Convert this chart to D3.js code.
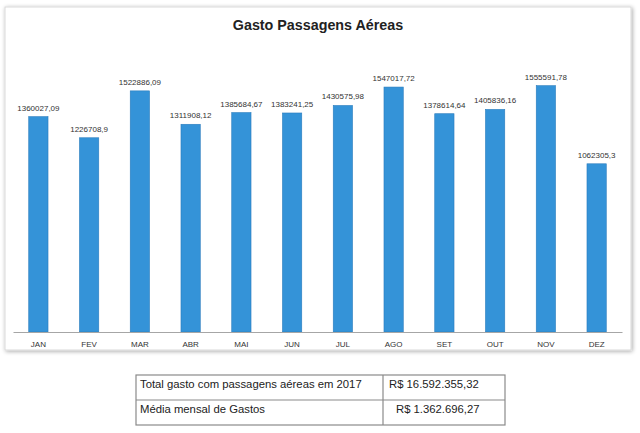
<!DOCTYPE html>
<html><head><meta charset="utf-8">
<script src="https://cdn.jsdelivr.net/npm/d3@7"></script>
<style>body{margin:0;background:#fff}svg{display:block}</style>
</head><body>
<svg id="c" width="640" height="433"></svg>
<script>
const months = ["JAN","FEV","MAR","ABR","MAI","JUN","JUL","AGO","SET","OUT","NOV","DEZ"];
const values = [1360027.09,1226708.9,1522886.09,1311908.12,1385684.67,1383241.25,1430575.98,1547017.72,1378614.64,1405836.16,1555591.78,1062305.3];
const valueLabels = ["1360027,09","1226708,9","1522886,09","1311908,12","1385684,67","1383241,25","1430575,98","1547017,72","1378614,64","1405836,16","1555591,78","1062305,3"];
const title = "Gasto Passagens Aéreas";
const tableRows = [["Total gasto com passagens aéreas em 2017","R$ 16.592.355,32"],["Média mensal de Gastos","R$ 1.362.696,27"]];

const svg = d3.select("#c");
const defs = svg.append("defs");
const f = defs.append("filter").attr("id","sh").attr("x","-5%").attr("y","-5%").attr("width","110%").attr("height","110%");
f.append("feGaussianBlur").attr("in","SourceAlpha").attr("stdDeviation",2);
f.append("feOffset").attr("dx",1).attr("dy",1).attr("result","b");
f.append("feComponentTransfer").append("feFuncA").attr("type","linear").attr("slope",0.35);
const m = f.append("feMerge"); m.append("feMergeNode"); m.append("feMergeNode").attr("in","SourceGraphic");
svg.append("rect").attr("x",5).attr("y",7).attr("width",626).attr("height",343)
  .attr("fill","#fff").attr("stroke","#d9d9d9").attr("filter","url(#sh)");

svg.append("text").attr("x",318).attr("y",30).attr("text-anchor","middle")
  .attr("font-family","Liberation Sans, Arial, sans-serif").attr("font-weight","bold")
  .attr("font-size",14.3).attr("fill","#222").text(title);

const x = d3.scaleBand().domain(months).range([13,622]).paddingInner(0.62).paddingOuter(0.31);
const y = d3.scaleLinear().domain([0,1800000]).range([332,47]);

svg.selectAll("rect.bar").data(values).join("rect").attr("class","bar")
  .attr("x",(d,i)=>x(months[i])).attr("width",x.bandwidth())
  .attr("y",d=>y(d)).attr("height",d=>y(0)-y(d))
  .attr("fill","#3493d8").attr("stroke","#2a7cbd").attr("stroke-width",0.6);

svg.selectAll("text.vl").data(values).join("text").attr("class","vl")
  .attr("x",(d,i)=>x(months[i])+x.bandwidth()/2).attr("y",d=>y(d)-6)
  .attr("text-anchor","middle").attr("font-family","Liberation Sans, Arial, sans-serif")
  .attr("font-size",8).attr("fill","#333").text((d,i)=>valueLabels[i]);

const ax = svg.append("g").attr("transform","translate(0,332)")
  .call(d3.axisBottom(x).tickSize(0).tickPadding(9));
ax.select(".domain").attr("stroke","#a6a6a6").attr("stroke-width",1.2);
ax.selectAll("text").attr("font-family","Liberation Sans, Arial, sans-serif").attr("font-size",8).attr("fill","#333");

const tx = 136, ty = 375, tw = 369, rh = 25, c1 = 247;
const tg = svg.append("g");
tg.append("rect").attr("x",tx).attr("y",ty).attr("width",tw).attr("height",rh*2)
  .attr("fill","none").attr("stroke","#8a8a8a").attr("stroke-width",1.2);
tg.append("line").attr("x1",tx).attr("x2",tx+tw).attr("y1",ty+rh).attr("y2",ty+rh).attr("stroke","#8a8a8a").attr("stroke-width",1.2);
tg.append("line").attr("x1",tx+c1).attr("x2",tx+c1).attr("y1",ty).attr("y2",ty+rh*2).attr("stroke","#8a8a8a").attr("stroke-width",1.2);
tableRows.forEach((r,i)=>{
  tg.append("text").attr("x",tx+4).attr("y",ty+rh*i+13).attr("font-family","Liberation Sans, Arial, sans-serif")
    .attr("font-size",11.3).attr("fill","#222").text(r[0]);
  tg.append("text").attr("x",tx+c1+(i===0?6:13)).attr("y",ty+rh*i+13).attr("font-family","Liberation Sans, Arial, sans-serif")
    .attr("font-size",11.3).attr("fill","#222").text(r[1]);
});
</script>
</body></html>
